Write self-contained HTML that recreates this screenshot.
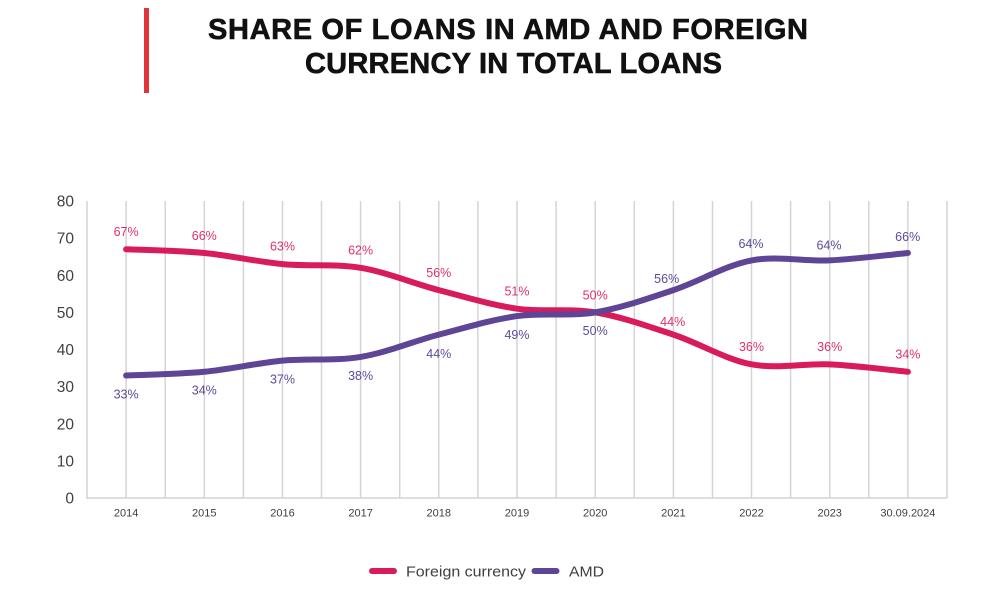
<!DOCTYPE html>
<html><head><meta charset="utf-8"><style>
html,body{margin:0;padding:0;background:#fff;}
svg{display:block;}
text{font-family:"Liberation Sans",sans-serif;}
</style></head><body>
<svg width="1000" height="595" viewBox="0 0 1000 595" xmlns="http://www.w3.org/2000/svg">
<rect width="1000" height="595" fill="#fff"/>
<rect x="144" y="8" width="5" height="85" fill="#e0353a"/>
<text x="208" y="39" font-size="29" font-weight="bold" fill="#111" stroke="#111" stroke-width="0.6" textLength="600" lengthAdjust="spacing">SHARE OF LOANS IN AMD AND FOREIGN</text>
<text x="305" y="73" font-size="29" font-weight="bold" fill="#111" stroke="#111" stroke-width="0.6" textLength="417" lengthAdjust="spacing">CURRENCY IN TOTAL LOANS</text>

<g stroke="#d4d4d4" stroke-width="1.5">
<line x1="87" y1="201" x2="87" y2="498"/>
<line x1="126.1" y1="201" x2="126.1" y2="498"/>
<line x1="165.2" y1="201" x2="165.2" y2="498"/>
<line x1="204.3" y1="201" x2="204.3" y2="498"/>
<line x1="243.4" y1="201" x2="243.4" y2="498"/>
<line x1="282.5" y1="201" x2="282.5" y2="498"/>
<line x1="321.5" y1="201" x2="321.5" y2="498"/>
<line x1="360.6" y1="201" x2="360.6" y2="498"/>
<line x1="399.7" y1="201" x2="399.7" y2="498"/>
<line x1="438.8" y1="201" x2="438.8" y2="498"/>
<line x1="477.9" y1="201" x2="477.9" y2="498"/>
<line x1="517.0" y1="201" x2="517.0" y2="498"/>
<line x1="556.1" y1="201" x2="556.1" y2="498"/>
<line x1="595.2" y1="201" x2="595.2" y2="498"/>
<line x1="634.3" y1="201" x2="634.3" y2="498"/>
<line x1="673.4" y1="201" x2="673.4" y2="498"/>
<line x1="712.5" y1="201" x2="712.5" y2="498"/>
<line x1="751.5" y1="201" x2="751.5" y2="498"/>
<line x1="790.6" y1="201" x2="790.6" y2="498"/>
<line x1="829.7" y1="201" x2="829.7" y2="498"/>
<line x1="868.8" y1="201" x2="868.8" y2="498"/>
<line x1="907.9" y1="201" x2="907.9" y2="498"/>
<line x1="947" y1="201" x2="947" y2="498"/>
<line x1="86" y1="498" x2="947" y2="498"/>
</g>

<g font-size="15.5" fill="#404040" text-anchor="end">
<text x="74" y="206.5">80</text>
<text x="74" y="243.6">70</text>
<text x="74" y="280.8">60</text>
<text x="74" y="317.9">50</text>
<text x="74" y="355.0">40</text>
<text x="74" y="392.1">30</text>
<text x="74" y="429.3">20</text>
<text x="74" y="466.4">10</text>
<text x="74" y="503.5">0</text>
</g>

<g font-size="11" fill="#404040" text-anchor="middle">
<text x="126.1" y="516.5">2014</text>
<text x="204.3" y="516.5">2015</text>
<text x="282.5" y="516.5">2016</text>
<text x="360.6" y="516.5">2017</text>
<text x="438.8" y="516.5">2018</text>
<text x="517.0" y="516.5">2019</text>
<text x="595.2" y="516.5">2020</text>
<text x="673.4" y="516.5">2021</text>
<text x="751.5" y="516.5">2022</text>
<text x="829.7" y="516.5">2023</text>
<text x="907.9" y="516.5">30.09.2024</text>
</g>

<path fill="none" stroke="#d81b5b" stroke-width="6" stroke-linecap="round" stroke-linejoin="round"
d="M126.1,249.26 C139.13,249.88 178.24,250.5 204.3,252.98 C230.36,255.46 256.44,261.64 282.5,264.11 C308.56,266.59 334.54,263.5 360.6,267.83 C386.66,272.16 412.74,283.3 438.8,290.10 C464.86,296.9 490.94,304.95 517.0,308.66 C543.06,312.37 569.14,308.05 595.2,312.38 C621.26,316.71 647.34,325.99 673.4,334.65 C699.46,343.31 725.44,359.4 751.5,364.35 C777.56,369.3 803.64,363.11 829.7,364.35 C855.76,365.59 894.87,370.54 907.9,371.78"/>
<path fill="none" stroke="#5e4596" stroke-width="6" stroke-linecap="round" stroke-linejoin="round"
d="M126.1,375.49 C139.13,374.87 178.24,374.26 204.3,371.78 C230.36,369.31 256.44,363.12 282.5,360.64 C308.56,358.17 334.54,361.26 360.6,356.93 C386.66,352.6 412.74,341.46 438.8,334.65 C464.86,327.84 490.94,319.8 517.0,316.09 C543.06,312.38 569.14,316.71 595.2,312.38 C621.26,308.05 647.34,298.76 673.4,290.10 C699.46,281.44 725.44,265.35 751.5,260.40 C777.56,255.45 803.64,261.64 829.7,260.40 C855.76,259.16 894.87,254.22 907.9,252.98"/>

<g font-size="12.5" fill="#e0306a" text-anchor="middle">
<text x="126.1" y="236">67%</text>
<text x="204.3" y="240">66%</text>
<text x="282.5" y="250.5">63%</text>
<text x="360.6" y="254.5">62%</text>
<text x="438.8" y="276.8">56%</text>
<text x="517.0" y="295.5">51%</text>
<text x="595.2" y="299.5">50%</text>
<text x="672.7" y="326.2">44%</text>
<text x="751.5" y="351.2">36%</text>
<text x="829.7" y="351.2">36%</text>
<text x="907.9" y="358.5">34%</text>
</g>
<g font-size="12.5" fill="#5e4a9a" text-anchor="middle">
<text x="126.1" y="398.5">33%</text>
<text x="204.3" y="394.5">34%</text>
<text x="282.5" y="383.5">37%</text>
<text x="360.6" y="380.2">38%</text>
<text x="438.8" y="357.8">44%</text>
<text x="517.0" y="338.8">49%</text>
<text x="595.2" y="335.2">50%</text>
<text x="666.7" y="283.2">56%</text>
<text x="751.0" y="247.8">64%</text>
<text x="829.0" y="249.5">64%</text>
<text x="907.7" y="241.2">66%</text>
</g>

<line x1="372" y1="571" x2="394" y2="571" stroke="#d81b5b" stroke-width="6" stroke-linecap="round"/>
<text x="406" y="576.3" font-size="15" fill="#404040" textLength="120" lengthAdjust="spacingAndGlyphs">Foreign currency</text>
<line x1="534.5" y1="571" x2="556.5" y2="571" stroke="#5e4596" stroke-width="6" stroke-linecap="round"/>
<text x="569" y="576.3" font-size="15" fill="#404040" textLength="35" lengthAdjust="spacingAndGlyphs">AMD</text>
</svg>
</body></html>
